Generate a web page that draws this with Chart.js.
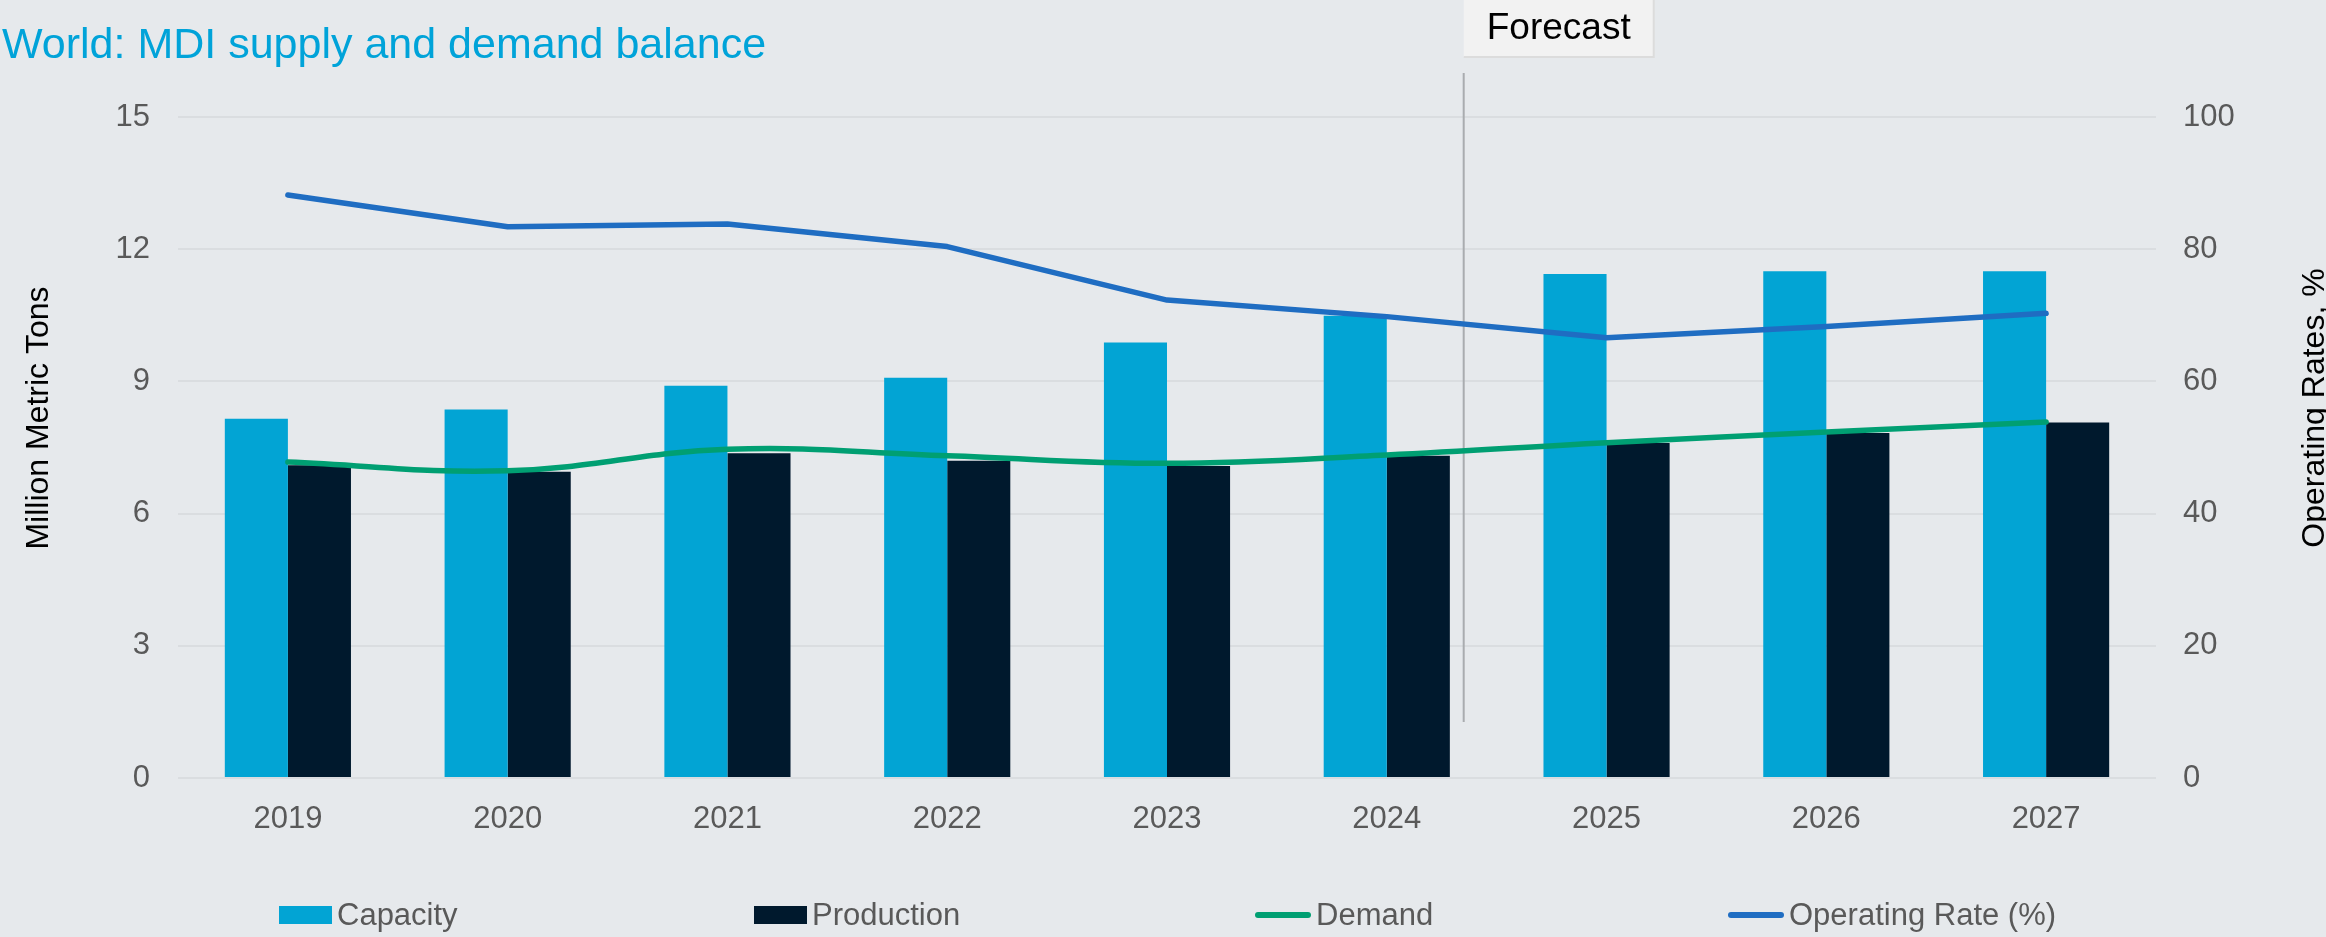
<!DOCTYPE html>
<html lang="en">
<head>
<meta charset="UTF-8" />
<meta name="viewport" content="width=device-width, initial-scale=1.0" />
<title>World: MDI supply and demand balance</title>
<style>
  body { margin: 0; background: #e6e9ec; font-family: "Liberation Sans", Arial, sans-serif; }
  #wrap { position: relative; width: 2326px; height: 937px; overflow: hidden; }
  #title { position: absolute; left: 2px; top: 22px; font-size: 43px; line-height: 43px; color: #00a3d9; white-space: nowrap; }
  #myChart { position: absolute; left: 0; top: 0; }
  .legend-item { position: absolute; top: 896px; height: 37px; display: flex; align-items: center; font-size: 31px; color: #595959; white-space: nowrap; }
  .swatch-bar { width: 53px; height: 18px; margin-right: 5px; }
  .swatch-line { width: 56px; height: 6px; border-radius: 3px; margin-right: 5px; }
</style>
</head>
<body>
<div id="wrap">
  <canvas id="myChart" width="2326" height="937"></canvas>
  <div id="title">World: MDI supply and demand balance</div>
  <div id="legend"></div>
</div>

<script src="https://cdn.jsdelivr.net/npm/chart.js"></script>
<script>
// million metric tons
const years = ['2019', '2020', '2021', '2022', '2023', '2024', '2025', '2026', '2027'];
const capacity = [8.15, 8.36, 8.90, 9.08, 9.88, 10.49, 11.44, 11.50, 11.50];
const production = [7.10, 6.95, 7.37, 7.20, 7.08, 7.31, 7.60, 7.83, 8.07];
const demand = [7.17, 6.97, 7.46, 7.31, 7.14, 7.33, 7.61, 7.85, 8.08];
// percent, right axis
const operatingRate = [88.2, 83.4, 83.8, 80.4, 72.3, 69.8, 66.6, 68.3, 70.3];

// forecast period starts a third of the way from 2024 to 2025
const forecastAt = 5.35;

const tickFont = { family: 'Liberation Sans', size: 31 };
const tickColor = '#595959';

// divider + "Forecast" tag, plus both axis titles (drawn bottom-to-top)
const decorations = {
  id: 'decorations',
  beforeDatasetsDraw(chart) {
    const { ctx, scales: { x, y } } = chart;
    const x0 = x.getPixelForValue(5);
    const lx = x0 + (forecastAt - 5) * (x.getPixelForValue(6) - x0);
    ctx.save();
    ctx.strokeStyle = '#a9acaf';
    ctx.lineWidth = 2;
    ctx.beginPath();
    ctx.moveTo(lx, y.getPixelForValue(16));
    ctx.lineTo(lx, y.getPixelForValue(1.27));
    ctx.stroke();
    ctx.restore();
  },
  afterDraw(chart) {
    const { ctx, scales: { x } } = chart;
    const x0 = x.getPixelForValue(5);
    const lx = x0 + (forecastAt - 5) * (x.getPixelForValue(6) - x0);
    ctx.save();
    ctx.fillStyle = '#f2f2f2';
    ctx.fillRect(lx, 0, 190, 57);
    ctx.strokeStyle = '#dcdcdc';
    ctx.lineWidth = 2;
    ctx.beginPath();
    ctx.moveTo(lx, 57);
    ctx.lineTo(lx + 190, 57);
    ctx.lineTo(lx + 190, 0);
    ctx.stroke();
    ctx.fillStyle = '#000';
    ctx.font = '37px "Liberation Sans"';
    ctx.textAlign = 'center';
    ctx.textBaseline = 'middle';
    ctx.fillText('Forecast', lx + 95, 29);

    ctx.font = '32px "Liberation Sans"';
    ctx.textBaseline = 'alphabetic';
    ctx.translate(48, 418);
    ctx.rotate(-Math.PI / 2);
    ctx.fillText('Million Metric Tons', 0, 0);
    ctx.setTransform(1, 0, 0, 1, 0, 0);
    ctx.translate(2324, 408);
    ctx.rotate(-Math.PI / 2);
    ctx.fillText('Operating Rates, %', 0, 0);
    ctx.restore();
  }
};

const config = {
  type: 'bar',
  data: {
    labels: years,
    datasets: [
      {
        label: 'Capacity',
        data: capacity,
        backgroundColor: '#02a4d4',
        categoryPercentage: 0.574,
        barPercentage: 1,
        yAxisID: 'y',
        order: 2
      },
      {
        label: 'Production',
        data: production,
        backgroundColor: '#00192d',
        categoryPercentage: 0.574,
        barPercentage: 1,
        yAxisID: 'y',
        order: 2
      },
      {
        type: 'line',
        label: 'Demand',
        data: demand,
        borderColor: '#009f72',
        backgroundColor: '#009f72',
        borderWidth: 5.5,
        tension: 0.4,
        pointRadius: 0,
        borderCapStyle: 'round',
        borderJoinStyle: 'round',
        yAxisID: 'y',
        order: 1
      },
      {
        type: 'line',
        label: 'Operating Rate (%)',
        data: operatingRate,
        borderColor: '#1f6dc2',
        backgroundColor: '#1f6dc2',
        borderWidth: 5.5,
        tension: 0,
        pointRadius: 0,
        borderCapStyle: 'round',
        borderJoinStyle: 'round',
        yAxisID: 'y1',
        order: 0
      }
    ]
  },
  options: {
    responsive: false,
    devicePixelRatio: 1,
    animation: false,
    layout: { padding: { top: 117, bottom: 99, left: 0, right: 0 } },
    plugins: {
      legend: { display: false },
      title: { display: false },
      tooltip: { enabled: false }
    },
    scales: {
      x: {
        grid: { display: false },
        border: { display: false },
        ticks: { font: tickFont, color: tickColor, padding: 15 },
        afterFit(scale) { scale.height = 60; }
      },
      y: {
        position: 'left',
        min: 0,
        max: 15,
        ticks: { stepSize: 3, font: tickFont, color: tickColor, padding: 28 },
        grid: { color: '#dadde0', lineWidth: 2, drawTicks: false },
        border: { display: false },
        afterFit(scale) { scale.width = 178; }
      },
      y1: {
        position: 'right',
        min: 0,
        max: 100,
        ticks: { stepSize: 20, font: tickFont, color: tickColor, padding: 27 },
        grid: { display: false, drawTicks: false },
        border: { display: false },
        afterFit(scale) { scale.width = 170; }
      }
    }
  },
  plugins: [decorations]
};

const myChart = new Chart(document.getElementById('myChart'), config);

// legend row with fixed column starts
const legendLeft = [279, 754, 1255, 1728];
document.getElementById('legend').innerHTML = myChart.data.datasets
  .map(function (ds, i) {
    const cls = ds.type === 'line' ? 'swatch-line' : 'swatch-bar';
    return `<div class="legend-item" style="left:${legendLeft[i]}px">
      <span class="${cls}" style="background:${ds.backgroundColor}"></span>${ds.label}</div>`;
  })
  .join('');
</script>
</body>
</html>
